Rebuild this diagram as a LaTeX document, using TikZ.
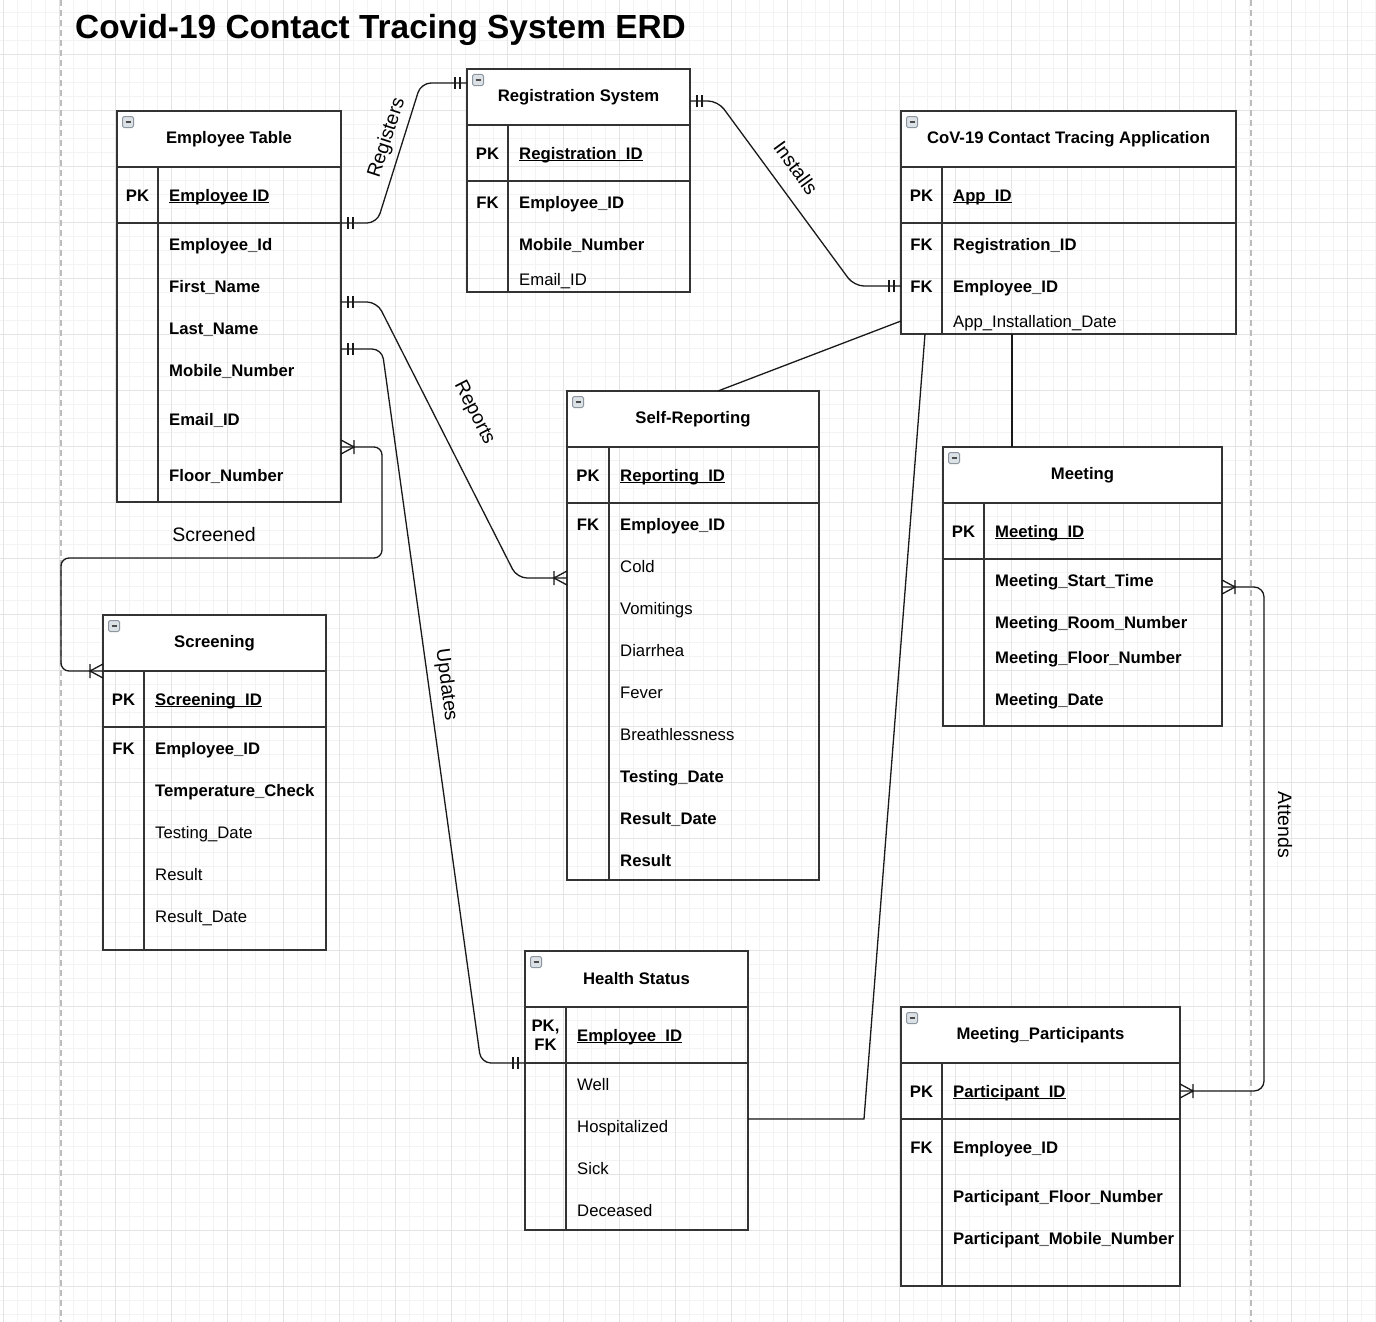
\documentclass[tikz,border=0pt]{standalone}
\usepackage{fontspec}
\setmainfont{Liberation Sans}
\usetikzlibrary{calc}

\definecolor{gridminor}{HTML}{F3F3F3}
\definecolor{gridmajor}{HTML}{E4E4E4}
\definecolor{pagebreak}{HTML}{BDBDBD}
\definecolor{tblgray}{HTML}{333333}
\definecolor{iconfill}{HTML}{DCE1E6}
\definecolor{iconline}{HTML}{8C96A0}

\tikzset{
  tbl/.style={draw=tblgray, line width=1.4pt, inner sep=0pt, outer sep=0pt, anchor=north west},
  hdr/.style={tbl, fill=white, minimum height=56pt, font=\fontsize{16.7}{20}\selectfont\bfseries},
  rule/.style={draw=tblgray, line width=1.4pt},
  keycol/.style={anchor=base, yshift=-6pt, inner sep=0pt, font=\fontsize{16.7}{20}\selectfont\bfseries},
  attr/.style={anchor=base west, yshift=-6pt, inner sep=0pt, font=\fontsize{16.7}{20}\selectfont},
  battr/.style={attr, font=\fontsize{16.7}{20}\selectfont\bfseries},
  icon/.style={draw=iconline, fill=iconfill, line width=1pt, minimum size=11pt, inner sep=0pt, rounded corners=1.5pt,
    path picture={\draw[black!70, line width=1.8pt] ([xshift=3pt]path picture bounding box.west)
      -- ([xshift=-3pt]path picture bounding box.east);}},
  conn/.style={draw=black!90, line width=1.3pt, rounded corners=10pt},
  crow/.style={draw=black!90, line width=1.3pt},
  rel/.style={font=\fontsize{19.5}{23}\selectfont, inner sep=0pt},
  pics/mandone/.style={code={\draw[crow] (-7,-6) -- (-7,6) (-12,-6) -- (-12,6);}},
  pics/onemany/.style={code={\draw[crow] (-13,-7) -- (-13,7) (0,-7) -- (-13,0) -- (0,7);}},
}

\begin{document}
\begin{tikzpicture}[x=1pt,y=-1pt]
	\useasboundingbox (0,0) rectangle (1376,1322);

	% draw the grid
	\foreach \x in {3,17,...,1376}
		\draw[gridminor, line width=1pt] (\x,0) -- (\x,1322);
	\foreach \y in {12.3,26.3,...,1322}
		\draw[gridminor, line width=1pt] (0,\y) -- (1376,\y);
	\foreach \x in {3,59,...,1376}
		\draw[gridmajor, line width=1pt] (\x,0) -- (\x,1322);
	\foreach \y in {-1.7,54.3,...,1322}
		\draw[gridmajor, line width=1pt] (0,\y) -- (1376,\y);

	% page breaks
	\foreach \x in {61,1251}
		\draw[pagebreak, line width=1.3pt, dash pattern=on 6pt off 4pt] (\x,0) -- (\x,1322);

	% title
	\node[anchor=base west, inner sep=0pt, font=\fontsize{33.4}{40}\selectfont\bfseries] (title) at (75,39)
		{Covid-19 Contact Tracing System ERD};

	% employee table
	\node[hdr, minimum width=224pt] (empH) at (117,111) {Employee Table};
	\node[tbl, minimum width=224pt, minimum height=391pt] (emp) at (117,111) {};
	\draw[rule] (117,223) -- (341,223) (158,167) -- (158,502);
	\node[icon] (empI) at (128,122) {};
	\node[keycol] (empK1) at (137.5,195) {PK};
	\node[battr] (empID) at (169,195) {\underline{\smash{Employee ID}}};
	\foreach \y/\txt [count=\i] in {244/Employee\_Id, 286/First\_Name, 328/Last\_Name,
		370/Mobile\_Number, 419/Email\_ID, 475/Floor\_Number}
		\node[battr] (emp\i) at (169,\y) {\txt};

	% registration system
	\node[hdr, minimum width=223pt] (regH) at (467,69) {Registration System};
	\node[tbl, minimum width=223pt, minimum height=223pt] (reg) at (467,69) {};
	\draw[rule] (467,181) -- (690,181) (508,125) -- (508,292);
	\node[icon] (regI) at (478,80) {};
	\node[keycol] (regK1) at (487.5,153) {PK};
	\node[keycol] (regK2) at (487.5,202) {FK};
	\node[battr] (regID) at (519,153) {\underline{\smash{Registration\_ID}}};
	\node[battr] (reg1) at (519,202) {Employee\_ID};
	\node[battr] (reg2) at (519,244) {Mobile\_Number};
	\node[attr] (reg3) at (519,279) {Email\_ID};

	% contact tracing application
	\node[hdr, minimum width=335pt] (appH) at (901,111) {CoV-19 Contact Tracing Application};
	\node[tbl, minimum width=335pt, minimum height=223pt] (app) at (901,111) {};
	\draw[rule] (901,223) -- (1236,223) (942,167) -- (942,334);
	\node[icon] (appI) at (912,122) {};
	\node[keycol] (appK1) at (921.5,195) {PK};
	\node[keycol] (appK2) at (921.5,244) {FK};
	\node[keycol] (appK3) at (921.5,286) {FK};
	\node[battr] (appID) at (953,195) {\underline{\smash{App\_ID}}};
	\node[battr] (app1) at (953,244) {Registration\_ID};
	\node[battr] (app2) at (953,286) {Employee\_ID};
	\node[attr] (app3) at (953,321) {App\_Installation\_Date};

	% self-reporting
	\node[hdr, minimum width=252pt] (repH) at (567,391) {Self-Reporting};
	\node[tbl, minimum width=252pt, minimum height=489pt] (rep) at (567,391) {};
	\draw[rule] (567,503) -- (819,503) (609,447) -- (609,880);
	\node[icon] (repI) at (578,402) {};
	\node[keycol] (repK1) at (588,475) {PK};
	\node[keycol] (repK2) at (588,524) {FK};
	\node[battr] (repID) at (620,475) {\underline{\smash{Reporting\_ID}}};
	\node[battr] (rep1) at (620,524) {Employee\_ID};
	\foreach \y/\txt [count=\i from 2] in {566/Cold, 608/Vomitings, 650/Diarrhea, 692/Fever, 734/Breathlessness}
		\node[attr] (rep\i) at (620,\y) {\txt};
	\foreach \y/\txt [count=\i from 7] in {776/Testing\_Date, 818/Result\_Date, 860/Result}
		\node[battr] (rep\i) at (620,\y) {\txt};

	% meeting
	\node[hdr, minimum width=279pt] (meetH) at (943,447) {Meeting};
	\node[tbl, minimum width=279pt, minimum height=279pt] (meet) at (943,447) {};
	\draw[rule] (943,559) -- (1222,559) (984,503) -- (984,726);
	\node[icon] (meetI) at (954,458) {};
	\node[keycol] (meetK1) at (963.5,531) {PK};
	\node[battr] (meetID) at (995,531) {\underline{\smash{Meeting\_ID}}};
	\foreach \y/\txt [count=\i] in {580/Meeting\_Start\_Time, 622/Meeting\_Room\_Number,
		657/Meeting\_Floor\_Number, 699/Meeting\_Date}
		\node[battr] (meet\i) at (995,\y) {\txt};

	% screening
	\node[hdr, minimum width=223pt] (scrH) at (103,615) {Screening};
	\node[tbl, minimum width=223pt, minimum height=335pt] (scr) at (103,615) {};
	\draw[rule] (103,727) -- (326,727) (144,671) -- (144,950);
	\node[icon] (scrI) at (114,626) {};
	\node[keycol] (scrK1) at (123.5,699) {PK};
	\node[keycol] (scrK2) at (123.5,748) {FK};
	\node[battr] (scrID) at (155,699) {\underline{\smash{Screening\_ID}}};
	\node[battr] (scr1) at (155,748) {Employee\_ID};
	\node[battr] (scr2) at (155,790) {Temperature\_Check};
	\foreach \y/\txt [count=\i from 3] in {832/Testing\_Date, 874/Result, 916/Result\_Date}
		\node[attr] (scr\i) at (155,\y) {\txt};

	% health status
	\node[hdr, minimum width=223pt] (healthH) at (525,951) {Health Status};
	\node[tbl, minimum width=223pt, minimum height=279pt] (health) at (525,951) {};
	\draw[rule] (525,1063) -- (748,1063) (566,1007) -- (566,1230);
	\node[icon] (healthI) at (536,962) {};
	\node[align=center, inner sep=0pt, font=\fontsize{16.7}{19}\selectfont\bfseries] (healthK1) at (545.5,1035) {PK,\\FK};
	\node[battr] (healthID) at (577,1035) {\underline{\smash{Employee\_ID}}};
	\foreach \y/\txt [count=\i] in {1084/Well, 1126/Hospitalized, 1168/Sick, 1210/Deceased}
		\node[attr] (health\i) at (577,\y) {\txt};

	% meeting participants
	\node[hdr, minimum width=279pt] (partH) at (901,1007) {Meeting\_Participants};
	\node[tbl, minimum width=279pt, minimum height=279pt] (part) at (901,1007) {};
	\draw[rule] (901,1119) -- (1180,1119) (942,1063) -- (942,1286);
	\node[icon] (partI) at (912,1018) {};
	\node[keycol] (partK1) at (921.5,1091) {PK};
	\node[keycol] (partK2) at (921.5,1147) {FK};
	\node[battr] (partID) at (953,1091) {\underline{\smash{Participant\_ID}}};
	\foreach \y/\txt [count=\i] in {1147/Employee\_ID, 1196/Participant\_Floor\_Number,
		1238/Participant\_Mobile\_Number}
		\node[battr] (part\i) at (953,\y) {\txt};

	% registers
	\draw[conn] ($(emp.north east)+(0,112)$) coordinate (regsA) -- ++(36,0)
		-- ($(reg.north west)+(-46,14)$) -- ($(reg.north west)+(0,14)$) coordinate (regsB);
	\pic[rotate=180] at (regsA) {mandone};
	\pic at (regsB) {mandone};
	\node[rel, rotate=72] (regsL) at (387,138) {Registers};

	% installs
	\draw[conn] ($(reg.north east)+(0,32)$) coordinate (instA) -- ++(28,0)
		-- ($(app.north west)+(-47,175)$) -- ($(app.north west)+(0,175)$) coordinate (instB);
	\pic[rotate=180] at (instA) {mandone};
	\pic at (instB) {mandone};
	\node[rel, rotate=-54] (instL) at (796,168) {Installs};

	% reports
	\draw[conn] ($(emp.north east)+(0,191)$) coordinate (repsA) -- ++(36,0)
		-- ($(rep.north west)+(-50,187)$) -- ($(rep.north west)+(0,187)$) coordinate (repsB);
	\pic[rotate=180] at (repsA) {mandone};
	\pic at (repsB) {onemany};
	\node[rel, rotate=-63] (repsL) at (474,413) {Reports};

	% updates
	\draw[conn] ($(emp.north east)+(0,238)$) coordinate (updA) -- ++(41,0)
		-- ($(health.north west)+(-44,112)$) -- ($(health.north west)+(0,112)$) coordinate (updB);
	\pic[rotate=180] at (updA) {mandone};
	\pic at (updB) {mandone};
	\node[rel, rotate=-82.5] (updL) at (446,685) {Updates};

	% screened
	\draw[conn, rounded corners=8pt] ($(emp.north east)+(0,336)$) coordinate (scrA) -- ++(41,0) -- ++(0,111)
		-- ($(scr.north west)+(-42,-57)$) -- ($(scr.north west)+(-42,56)$)
		-- ($(scr.north west)+(0,56)$) coordinate (scrB);
	\pic[rotate=180] at (scrA) {onemany};
	\pic at (scrB) {onemany};
	\node[rel] (scrL) at (214,535) {Screened};

	% application to self-reporting, meeting and health status
	\draw[crow] ($(app.south west)+(0,-13)$) -- ($(rep.north west)+(151,0)$);
	\draw[crow] ($(app.south west)+(111,0)$) -- ($(meet.north west)+(69,0)$);
	\draw[crow] ($(app.south west)+(24,0)$) -- ($(health.north east)+(116,168)$) -- ($(health.north east)+(0,168)$);

	% attends
	\draw[conn] ($(meet.north east)+(0,140)$) coordinate (attA) -- ++(42,0)
		-- ($(part.north east)+(84,84)$) -- ($(part.north east)+(0,84)$) coordinate (attB);
	\pic[rotate=180] at (attA) {onemany};
	\pic[rotate=180] at (attB) {onemany};
	\node[rel, rotate=-90] (attL) at (1285,825) {Attends};
\end{tikzpicture}
\end{document}
